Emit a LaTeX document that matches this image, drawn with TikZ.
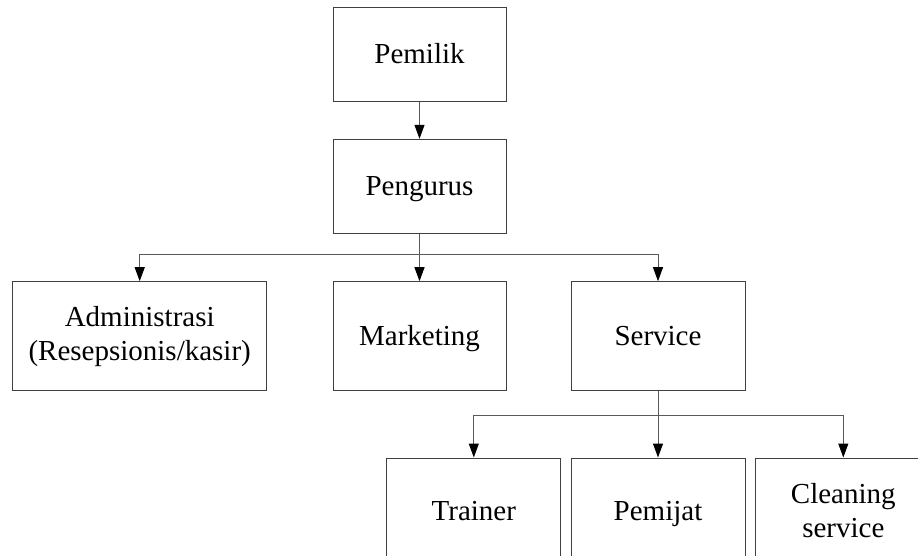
\documentclass[tikz,border=0pt]{standalone}
\usepackage{fontspec}
\setmainfont{Liberation Serif}
\usetikzlibrary{arrows.meta}
\begin{document}
\begin{tikzpicture}[x=1pt,y=-1pt,
    kotak/.style={draw=black!75,line width=1pt,minimum width=173pt,minimum height=94pt,
      align=center,inner sep=0pt,font=\fontsize{29}{34}\selectfont},
    satu/.style={kotak,text height=19pt,text depth=0pt},
    garis/.style={draw=black!65,line width=1pt},
    panah/.style={garis,-{Triangle[length=14pt,width=10pt,color=black]}}]
    \useasboundingbox (0,0) rectangle (918,556);
    \node[satu] (pemilik) at (419.5,54.5) {Pemilik};
    \node[satu] (pengurus) at (419.5,186.3) {Pengurus};
    \node[kotak,minimum width=254pt,minimum height=109pt] (admin) at (139.7,336.2) {Administrasi\\(Resepsionis/kasir)};
    \node[satu,minimum height=109pt] (marketing) at (419.5,336.2) {Marketing};
    \node[satu,minimum width=174pt,minimum height=109pt] (service) at (658,336.2) {Service};
    \node[satu,minimum width=174pt,minimum height=106pt] (trainer) at (473.8,511) {Trainer};
    \node[satu,minimum width=174pt,minimum height=106pt] (pemijat) at (658,511) {Pemijat};
    \node[kotak,minimum width=175pt,minimum height=106pt] (cleaning) at (843.3,511) {Cleaning\\service};
    % cabang
    \coordinate (c1) at (419.5,254);
    \coordinate (c2) at (658,415);
    \draw[panah] (pemilik) -- (pengurus);
    \draw[garis] (pengurus) -- (c1);
    \draw[panah] (c1) -| (admin.north);
    \draw[panah] (c1) -- (marketing);
    \draw[panah] (c1) -| (service.north);
    \draw[garis] (service) -- (c2);
    \draw[panah] (c2) -| (trainer.north);
    \draw[panah] (c2) -- (pemijat);
    \draw[panah] (c2) -| (cleaning.north);
\end{tikzpicture}
\end{document}
